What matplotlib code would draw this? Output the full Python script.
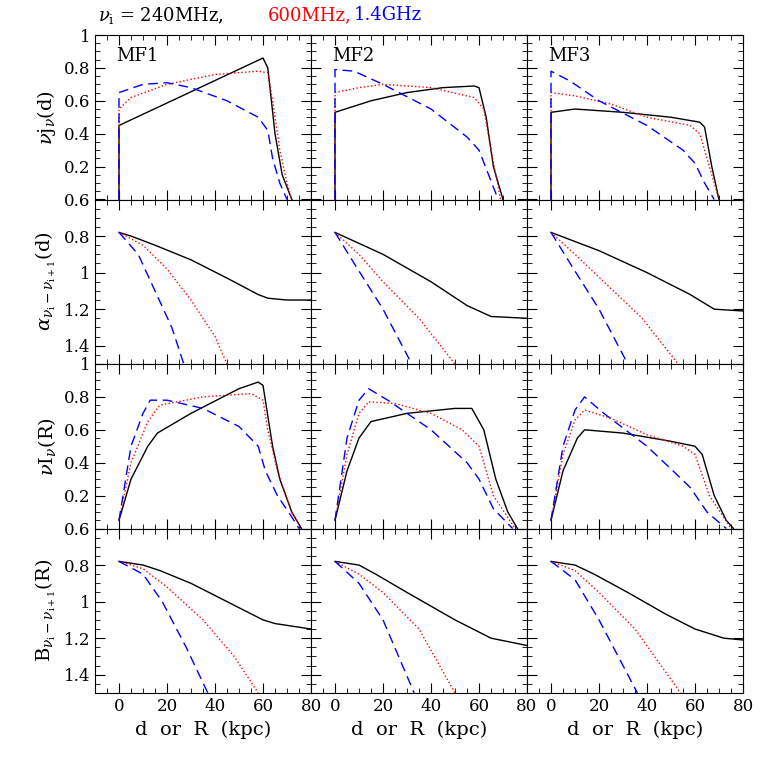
import matplotlib
matplotlib.use("Agg")
import matplotlib.pyplot as plt
from matplotlib.ticker import MultipleLocator

plt.rcParams['font.family'] = 'DejaVu Serif'
plt.rcParams['mathtext.fontset'] = 'dejavuserif'

panel_names = ["MF1", "MF2", "MF3"]
ylabels = [r"$\nu$j$_\nu$(d)", r"$\alpha_{\nu_{\rm i}-\nu_{\rm i+1}}$(d)",
           r"$\nu$I$_\nu$(R)", r"B$_{\nu_{\rm i}-\nu_{\rm i+1}}$(R)"]

# data[row][col] = (black, red, blue), each as (x list, y list)
data = [
 [  # row 1 emissivity
  (([0,0,60,62,65,68,72],[0,0.45,0.86,0.8,0.4,0.15,0]),
   ([0,0,5,20,40,58,62,64,67,70,72],[0,0.55,0.62,0.7,0.76,0.78,0.77,0.6,0.3,0.1,0]),
   ([0,0,10,20,30,45,58,62,64,67,70],[0,0.65,0.7,0.71,0.68,0.6,0.5,0.42,0.25,0.1,0])),
  (([0,0,15,30,45,58,60,63,66,70],[0,0.53,0.6,0.65,0.68,0.69,0.68,0.5,0.2,0]),
   ([0,0,10,20,40,58,62,65,69],[0,0.65,0.68,0.7,0.68,0.62,0.55,0.3,0]),
   ([0,0,8,20,40,55,60,64,68],[0,0.79,0.78,0.7,0.55,0.38,0.3,0.15,0])),
  (([0,0,10,30,50,62,64,67,70],[0,0.53,0.55,0.53,0.5,0.47,0.44,0.2,0]),
   ([0,0,10,25,40,58,62,66,70],[0,0.65,0.63,0.58,0.5,0.45,0.4,0.2,0]),
   ([0,0,8,20,40,55,60,64,68],[0,0.78,0.72,0.6,0.45,0.3,0.22,0.1,0])),
 ],
 [  # row 2 alpha(d)
  (([0,5,15,30,45,58,62,70,80],[0.78,0.8,0.85,0.93,1.03,1.12,1.14,1.15,1.15]),
   ([0,10,20,30,40,45],[0.78,0.85,0.98,1.15,1.35,1.5]),
   ([0,8,15,22,27],[0.78,0.9,1.1,1.3,1.5])),
  (([0,20,40,55,65,80],[0.78,0.9,1.05,1.18,1.24,1.25]),
   ([0,10,20,35,50],[0.78,0.9,1.05,1.25,1.5]),
   ([0,8,20,32],[0.78,0.95,1.2,1.5])),
  (([0,20,40,58,68,80],[0.78,0.88,1.0,1.12,1.2,1.21]),
   ([0,10,22,38,53],[0.78,0.9,1.05,1.25,1.5]),
   ([0,8,20,32],[0.78,0.95,1.2,1.5])),
 ],
 [  # row 3 intensity
  (([0,5,12,16,30,50,58,60,64,67,72,76],[0.05,0.3,0.5,0.58,0.7,0.85,0.89,0.87,0.5,0.3,0.1,0]),
   ([0,5,12,17,35,55,60,62,66,72,76],[0.05,0.4,0.65,0.75,0.8,0.82,0.78,0.6,0.35,0.1,0]),
   ([0,5,10,13,20,35,50,58,61,66,72,75],[0.05,0.5,0.7,0.78,0.78,0.73,0.62,0.5,0.35,0.2,0.07,0])),
  (([0,5,10,15,30,50,57,62,67,72,76],[0.05,0.35,0.55,0.65,0.7,0.73,0.73,0.6,0.3,0.1,0]),
   ([0,5,10,14,25,40,53,60,66,75],[0.05,0.45,0.7,0.77,0.76,0.7,0.6,0.5,0.2,0]),
   ([0,5,10,14,22,40,55,60,66,74],[0.05,0.55,0.78,0.85,0.78,0.6,0.4,0.3,0.12,0])),
  (([0,5,11,14,30,50,60,63,68,73,76],[0.05,0.35,0.55,0.6,0.58,0.53,0.5,0.45,0.2,0.05,0]),
   ([0,5,10,14,25,40,55,60,66,75],[0.05,0.45,0.66,0.72,0.67,0.57,0.5,0.45,0.2,0]),
   ([0,5,10,14,22,40,53,58,65,73],[0.05,0.5,0.72,0.8,0.7,0.5,0.32,0.25,0.1,0])),
 ],
 [  # row 4 B(R)
  (([0,10,17,30,45,60,65,80],[0.78,0.8,0.83,0.9,1.0,1.1,1.12,1.15]),
   ([0,10,20,35,48,58],[0.78,0.82,0.92,1.1,1.3,1.5]),
   ([0,10,18,28,37],[0.78,0.85,1.0,1.25,1.5])),
  (([0,10,17,30,50,65,80],[0.78,0.8,0.85,0.95,1.1,1.2,1.24]),
   ([0,10,20,35,50],[0.78,0.85,0.95,1.15,1.5]),
   ([0,10,20,33],[0.78,0.9,1.1,1.5])),
  (([0,10,18,32,48,60,72,80],[0.78,0.8,0.85,0.95,1.07,1.15,1.2,1.21]),
   ([0,10,20,35,54],[0.78,0.83,0.95,1.15,1.5]),
   ([0,10,20,36],[0.78,0.88,1.1,1.5])),
 ],
]

styles = [dict(color='black', ls='-'), dict(color='red', ls=':'),
          dict(color='blue', ls=(0, (7, 4)))]

fig = plt.figure(figsize=(7.63, 7.63), dpi=100)
L, R, T, B = 95/763, 743/763, 1-35/763, 1-693/763
w = (R-L)/3; h = (T-B)/4
for r in range(4):
    for c in range(3):
        ax = fig.add_axes([L+c*w, T-(r+1)*h, w, h])
        for (xs, ys), st in zip(data[r][c], styles):
            ax.plot(xs, ys, lw=1.0, **st)
        ax.set_xlim(-10, 80)
        ax.xaxis.set_major_locator(MultipleLocator(20))
        ax.xaxis.set_minor_locator(MultipleLocator(5))
        if r % 2 == 0:
            ax.set_ylim(0, 1)
            ax.set_yticks([0.2, 0.4, 0.6, 0.8, 1.0])
            ax.set_yticklabels(["0.2", "0.4", "0.6", "0.8", "1"])
            ax.yaxis.set_minor_locator(MultipleLocator(0.05))
        else:
            ax.set_ylim(1.5, 0.6)
            ax.set_yticks([0.6, 0.8, 1.0, 1.2, 1.4])
            ax.set_yticklabels(["0.6", "0.8", "1", "1.2", "1.4"])
            ax.yaxis.set_minor_locator(MultipleLocator(0.05))
        ax.tick_params(which='both', direction='in', top=True, right=True, labelsize=12)
        ax.tick_params(which='major', length=7)
        ax.tick_params(which='minor', length=3.5)
        if c != 0:
            ax.set_yticklabels([])
        else:
            ax.set_ylabel(ylabels[r], fontsize=14)
        if r != 3:
            ax.set_xticklabels([])
        else:
            ax.set_xlabel("d  or  R  (kpc)", fontsize=14)
        if r == 0:
            ax.text(0.1, 0.93, panel_names[c], transform=ax.transAxes, fontsize=13, va='top')

fig.text(98/763, 1-15/763, r"$\nu_{\rm i}$ = 240MHz,", fontsize=13, va='center', color='black')
fig.text(268/763, 1-15/763, "600MHz,", fontsize=13, va='center', color='red')
fig.text(354/763, 1-15/763, "1.4GHz", fontsize=13, va='center', color='blue')
fig.savefig("out.png", dpi=100)
